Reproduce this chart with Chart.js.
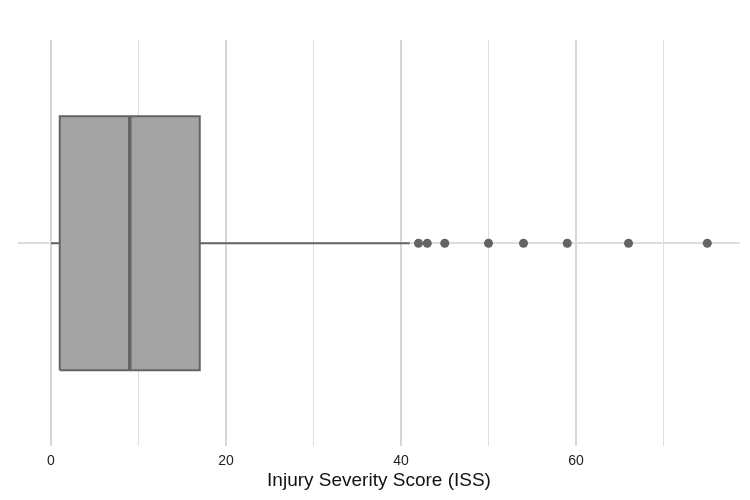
<!DOCTYPE html>
<html>
<head>
<meta charset="utf-8">
<script src="https://cdn.jsdelivr.net/npm/chart.js@4/dist/chart.umd.min.js"></script>
<style>
  html, body { margin: 0; padding: 0; background: #fff; }
  #wrap { width: 750px; height: 500px; }
</style>
</head>
<body>
<div id="wrap"><canvas id="chart" width="750" height="500"></canvas></div>
<script>
// box plot summary for ISS
const whiskerLow = 0;
const q1 = 1;
const median = 9;
const q3 = 17;
const whiskerHigh = 41;
const outliers = [42, 43, 45, 50, 54, 59, 66, 75];

const xTicks = [0, 10, 20, 30, 40, 50, 60, 70];
const xLabels = ["0", "", "20", "", "40", "", "60", ""];
const xTitle = "Injury Severity Score (ISS)";

const boxHalf = 0.5; // box half height in y units
const grey = "#646464";

const ctx = document.getElementById("chart").getContext("2d");
new Chart(ctx, {
    type: "scatter",
    data: {
        datasets: [
            {
                // box fill
                data: [{x: q1, y: boxHalf}, {x: q3, y: boxHalf}],
                showLine: true,
                borderWidth: 0,
                pointRadius: 0,
                fill: {value: -boxHalf},
                backgroundColor: "#a4a4a4",
                order: 5,
            },
            {
                // box outline
                data: [
                    {x: q1, y: -boxHalf}, {x: q3, y: -boxHalf},
                    {x: q3, y: boxHalf}, {x: q1, y: boxHalf},
                    {x: q1, y: -boxHalf},
                ],
                showLine: true,
                borderColor: grey,
                borderWidth: 2,
                pointRadius: 0,
                order: 4,
            },
            {
                // lower whisker
                data: [{x: whiskerLow, y: 0}, {x: q1, y: 0}],
                showLine: true,
                borderColor: grey,
                borderWidth: 2,
                pointRadius: 0,
                order: 3,
            },
            {
                // upper whisker
                data: [{x: q3, y: 0}, {x: whiskerHigh, y: 0}],
                showLine: true,
                borderColor: grey,
                borderWidth: 2,
                pointRadius: 0,
                order: 3,
            },
            {
                // median
                data: [{x: median, y: -boxHalf}, {x: median, y: boxHalf}],
                showLine: true,
                borderColor: grey,
                borderWidth: 3.5,
                pointRadius: 0,
                order: 2,
            },
            {
                data: outliers.map((v) => ({x: v, y: 0})),
                pointRadius: 4.5,
                pointBackgroundColor: grey,
                pointBorderWidth: 0,
                order: 1,
            },
        ],
    },
    options: {
        responsive: false,
        animation: false,
        layout: {padding: {top: 40, left: 18, right: 10, bottom: 8}},
        plugins: {legend: {display: false}, tooltip: {enabled: false}},
        scales: {
            x: {
                type: "linear",
                min: -3.77,
                max: 78.74,
                afterBuildTicks: (scale) => {
                    scale.ticks = xTicks.map((v) => ({value: v}));
                },
                border: {display: false},
                grid: {
                    drawTicks: false,
                    color: (c) => (c.tick && c.tick.value % 20 === 0 ? "#d6d6d6" : "#dedede"),
                    lineWidth: (c) => (c.tick && c.tick.value % 20 === 0 ? 2 : 1),
                },
                ticks: {
                    padding: 6,
                    color: "#222",
                    font: {family: "Liberation Sans", size: 14},
                    maxRotation: 0,
                    autoSkip: false,
                    callback: (value, i) => xLabels[i],
                },
                title: {
                    display: true,
                    text: xTitle,
                    color: "#111",
                    font: {family: "Liberation Sans", size: 19},
                    padding: {top: -6, bottom: 0},
                },
            },
            y: {
                type: "linear",
                min: -0.8,
                max: 0.8,
                afterBuildTicks: (scale) => {
                    scale.ticks = [{value: 0}];
                },
                border: {display: false},
                grid: {drawTicks: false, color: "#dedede", lineWidth: 2},
                ticks: {display: false},
            },
        },
    },
});
</script>
</body>
</html>
